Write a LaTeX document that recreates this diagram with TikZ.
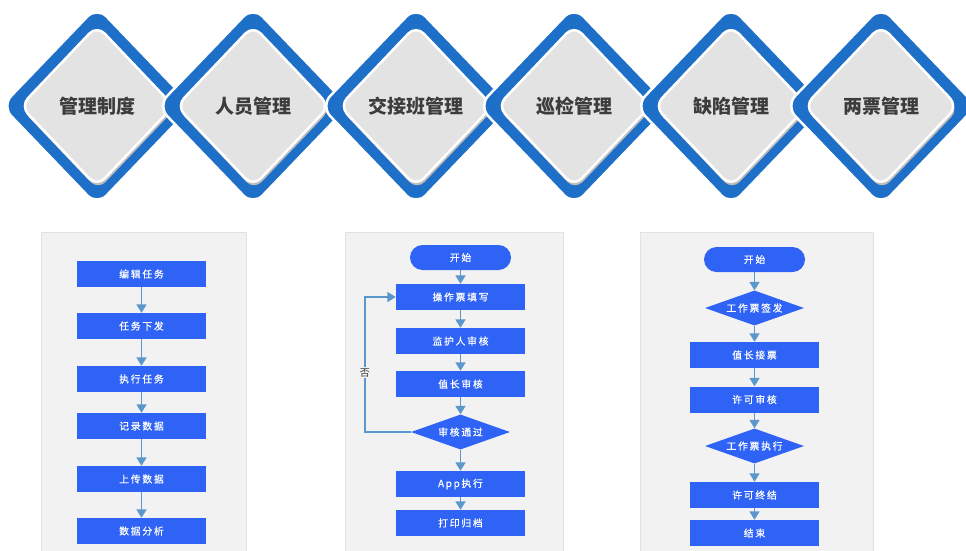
\documentclass[tikz,border=0pt]{standalone}
\usepackage{fontspec}
\usetikzlibrary{shapes.geometric,arrows.meta}
\newfontfamily\cjk{Noto Sans CJK SC}
\newfontfamily\cjkbox{Noto Sans CJK SC}[LetterSpace=18,FakeBold=0.6]
\definecolor{diablue}{HTML}{1E6FC8}
\definecolor{diagrey}{HTML}{E3E3E3}
\definecolor{diashadow}{HTML}{BDBDBD}
\definecolor{paneltone}{HTML}{F2F2F2}
\definecolor{panelline}{HTML}{E2E2E2}
\definecolor{boxblue}{HTML}{2F63F5}
\definecolor{arrowblue}{HTML}{5B97CC}
\definecolor{toptext}{HTML}{3C3C3C}
\tikzset{
  topouter/.style={diamond, inner sep=0, minimum width=192, minimum height=200, rounded corners=14, fill=diablue, draw=white, line width=2.5},
  topshadow/.style={diamond, inner sep=0, minimum width=154, minimum height=162, rounded corners=11, fill=diashadow},
  topinner/.style={diamond, inner sep=0, minimum width=154, minimum height=162, rounded corners=11, fill=diagrey, draw=white, line width=2.5,
    font=\cjk\bfseries\fontsize{19}{22}\selectfont, text=toptext},
  panel/.style={fill=paneltone, draw=panelline, line width=0.8},
  stepbox/.style={rectangle, inner sep=0, minimum width=129, minimum height=26, fill=boxblue, text=white, font=\cjkbox\fontsize{9.8}{11}\selectfont},
  termbox/.style={rectangle, rounded corners=12.5, inner sep=0, minimum width=101, minimum height=25, fill=boxblue, text=white, font=\cjkbox\fontsize{9.8}{11}\selectfont},
  decbox/.style={diamond, aspect=2.8, inner sep=0, minimum width=99, minimum height=35, fill=boxblue, text=white, font=\cjkbox\fontsize{9.8}{11}\selectfont},
  flow/.style={draw=arrowblue, line width=1.7, -{Triangle[width=10pt,length=8.5pt]}},
}
\begin{document}
\begin{tikzpicture}[x=1pt,y=-1pt]
\useasboundingbox[fill=white] (0,0) rectangle (966,550);
% top diamonds
\foreach \cx/\txt/\nm in {97/管理制度/1,253/人员管理/2,416/交接班管理/3,574/巡检管理/4,731/缺陷管理/5,881/两票管理/6}{
  \node[topouter] (o\nm) at (\cx,106) {};
  \node[topshadow] (s\nm) at (\cx+1,109) {};
  \node[topinner] (i\nm) at (\cx,106) {\txt};
}
% panels
\draw[panel] (41,232) rectangle (246,556);
\draw[panel] (345,232) rectangle (563,556);
\draw[panel] (640,232) rectangle (873,556);
% panel 1
\node[stepbox] (a1) at (141.5,274) {编辑任务};
\node[stepbox] (a2) at (141.5,326) {任务下发};
\node[stepbox] (a3) at (141.5,379) {执行任务};
\node[stepbox] (a4) at (141.5,426) {记录数据};
\node[stepbox] (a5) at (141.5,479) {上传数据};
\node[stepbox] (a6) at (141.5,531) {数据分析};
\foreach \p/\q in {a1/a2,a2/a3,a3/a4,a4/a5,a5/a6}{\draw[flow] (\p.south) -- (\q.north);}
% panel 2
\node[termbox] (b0) at (460.5,257.5) {开始};
\node[stepbox] (b1) at (460.5,297) {操作票填写};
\node[stepbox] (b2) at (460.5,341) {监护人审核};
\node[stepbox] (b3) at (460.5,384) {值长审核};
\node[decbox] (b4) at (460.5,432) {审核通过};
\node[stepbox] (b5) at (460.5,484) {App执行};
\node[stepbox] (b6) at (460.5,523) {打印归档};
\foreach \p/\q in {b0/b1,b1/b2,b2/b3,b3/b4,b4/b5,b5/b6}{\draw[flow] (\p.south) -- (\q.north);}
\draw[flow] (b4.west) -- ++(-46,0) |- (b1.west)
  node[pos=0.22, fill=paneltone, inner sep=1.5, text=toptext, font=\cjk\fontsize{10}{12}\selectfont] (no) {否};
% panel 3
\node[termbox] (c0) at (754.5,259.5) {开始};
\node[decbox] (c1) at (754.5,308) {工作票签发};
\node[stepbox] (c2) at (754.5,355) {值长接票};
\node[stepbox] (c3) at (754.5,399.5) {许可审核};
\node[decbox] (c4) at (754.5,446) {工作票执行};
\node[stepbox] (c5) at (754.5,495) {许可终结};
\node[stepbox] (c6) at (754.5,533) {结束};
\foreach \p/\q in {c0/c1,c1/c2,c2/c3,c3/c4,c4/c5,c5/c6}{\draw[flow] (\p.south) -- (\q.north);}
\end{tikzpicture}
\end{document}
